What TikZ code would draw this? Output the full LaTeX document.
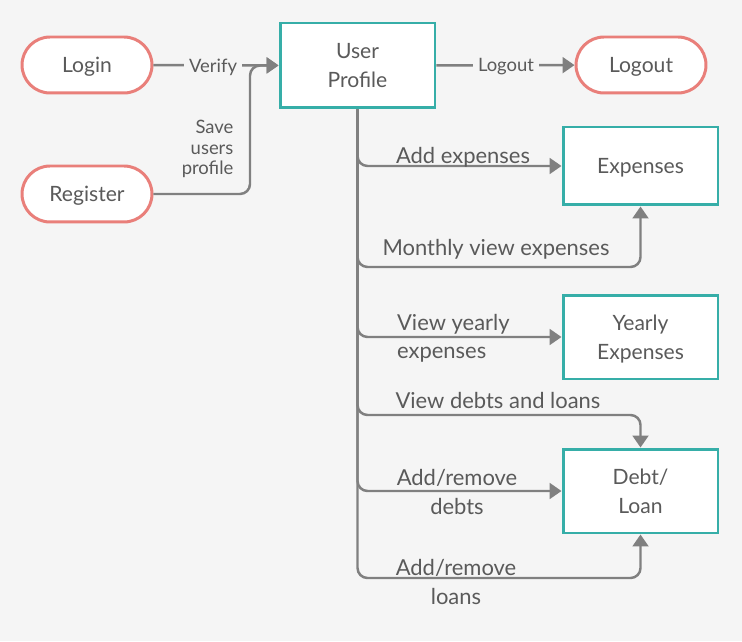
\documentclass[tikz,border=0pt]{standalone}
\usepackage{fontspec}
\setmainfont{Lato}
\usetikzlibrary{arrows.meta}
\definecolor{bg}{HTML}{F5F5F5}
\definecolor{pillred}{HTML}{E97F7A}
\definecolor{boxteal}{HTML}{36AEA8}
\definecolor{linegray}{HTML}{808080}
\definecolor{txtgray}{HTML}{5A5A5A}

\begin{document}
\begin{tikzpicture}[
    x=0.02cm, y=-0.02cm,
    pill/.style={rectangle, rounded corners=0.56cm, draw=pillred, line width=1.7pt, fill=white, minimum width=2.6cm, minimum height=1.12cm, text depth=0pt, text=txtgray, font=\fontsize{12}{16}\selectfont},
    box/.style={rectangle, draw=boxteal, line width=1.7pt, fill=white, minimum width=3.1cm, minimum height=1.68cm, text depth=0pt, align=center, text=txtgray, font=\fontsize{12}{16.5}\selectfont},
    conn/.style={draw=linegray, line width=1.4pt, rounded corners=0.2cm, -{Triangle[length=6.8pt, width=9pt]}},
    lbl/.style={text=txtgray, inner sep=1pt, font=\fontsize{12.5}{16}\selectfont},
    smalllbl/.style={text=txtgray, inner sep=3pt, font=\fontsize{10.5}{11.5}\selectfont}
]

% Background (fixes the margins)
\fill[bg] (0,0) rectangle (742,641);

% Start and end points
\node[pill] (login) at (87, 65) {Login};
\node[pill] (register) at (87, 194) {Register};
\node[pill] (logout) at (641, 65) {Logout};

% Main boxes
\node[box, minimum height=1.7cm, text depth=-2pt] (profile) at (357.5, 65.5) {User\\Profile};
\node[box, minimum height=1.56cm] (expenses) at (640.5, 166) {Expenses};
\node[box] (yearly) at (640.5, 337) {Yearly\\Expenses};
\node[box, text depth=-2pt] (debtloan) at (640.5, 491) {Debt/\\Loan};

% Bend points
\coordinate (join) at (250, 65.5);
\coordinate (monthly) at (640.5, 267);
\coordinate (viewdl) at (640.5, 415);
\coordinate (loans) at (640.5, 578);

% Arrows into and out of the profile
\draw[conn] (login) -- (profile);
\draw[conn] (register.east) -| (join) -- (profile.west);
\draw[conn] (profile) -- (logout);

% Arrows from the profile down the trunk
\draw[conn] (profile.south) |- (expenses.west);
\draw[conn] (profile.south) |- (monthly) -- (expenses.south);
\draw[conn] (profile.south) |- (yearly.west);
\draw[conn] (profile.south) |- (viewdl) -- (debtloan.north);
\draw[conn] (profile.south) |- (debtloan.west);
\draw[conn] (profile.south) |- (loans) -- (debtloan.south);

% Labels
\node[smalllbl, fill=bg] (verify) at (213, 67) {Verify};
\node[smalllbl, fill=bg] (logoutlbl) at (506, 67) {Logout};
\node[smalllbl, align=right, anchor=east] (save) at (239, 149) {Save\\users\\profile};
\node[lbl] (addexp) at (463, 157) {Add expenses};
\node[lbl] (monthlylbl) at (496, 249) {Monthly view expenses};
\node[lbl, align=left, anchor=west] (viewyear) at (395, 338) {View yearly\\expenses};
\node[lbl] (viewdebt) at (498, 400) {View debts and loans};
\node[lbl, align=center] (adddebt) at (457, 492) {Add/remove\\debts};
\node[lbl, align=center] (addloan) at (456, 582) {Add/remove\\loans};

\end{tikzpicture}
\end{document}
